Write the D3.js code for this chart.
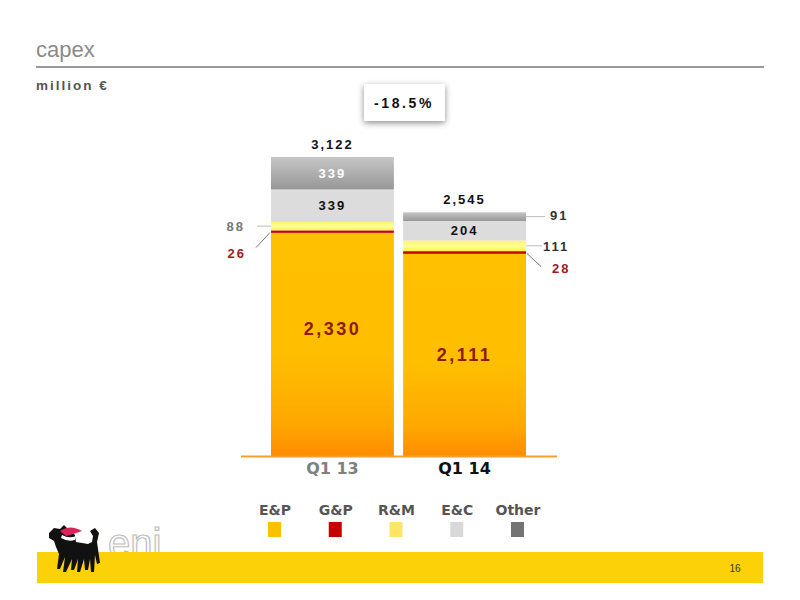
<!DOCTYPE html>
<html><head><meta charset="utf-8">
<script src="https://cdn.jsdelivr.net/npm/d3@7"></script>
<style>
html,body{margin:0;padding:0;background:#fff;}
svg{display:block;}
</style></head>
<body>
<svg id="chart" width="800" height="600"></svg>
<script>
// ---- data ----
const categories = ["Q1 13", "Q1 14"];
const seriesNames = ["E&P", "G&P", "R&M", "E&C", "Other"];
const epValues    = [2330, 2111];
const gpValues    = [26, 28];
const rmValues    = [88, 111];
const ecValues    = [339, 204];
const otherValues = [339, 91];
const totalLabels = ["3,122", "2,545"];
const changeLabel = "-18.5%";
const titleText = "capex";
const unitText = "million €";
const pageNumber = "16";

// ---- styles ----
const colors = {"E&P":"#FFC000","G&P":"#C80000","R&M":"#FFE566","E&C":"#D9D9D9","Other":"#737373"};
const fillFor = {"E&P":"url(#gEP)","G&P":"#C80000","R&M":"url(#gRM)","E&C":"#DCDCDC","Other":"url(#gOther)"};
const numFont = "'Liberation Sans', Arial, sans-serif";
const legFont = "'DejaVu Sans', Verdana, sans-serif";

const svg = d3.select("#chart");
const defs = svg.append("defs");
function lin(id, stops){
  const g = defs.append("linearGradient").attr("id",id).attr("x1",0).attr("y1",0).attr("x2",0).attr("y2",1);
  stops.forEach(s=>g.append("stop").attr("offset",s[0]).attr("stop-color",s[1]));
}
lin("gEP", [[0,"#FFC000"],[0.55,"#FFBE00"],[0.85,"#FFA800"],[1,"#FF8C00"]]);
lin("gRM", [[0,"#FFF36A"],[0.5,"#FFFF99"],[1,"#FFF24A"]]);
lin("gOther", [[0,"#C6C6C6"],[1,"#979797"]]);
const sh = defs.append("filter").attr("id","shadow").attr("x","-30%").attr("y","-30%").attr("width","160%").attr("height","170%");
sh.append("feDropShadow").attr("dx",0).attr("dy",2).attr("stdDeviation",3).attr("flood-color","#000").attr("flood-opacity",0.45);

// ---- header ----
svg.append("text").attr("x",36).attr("y",57).text(titleText)
  .attr("font-family",numFont).attr("font-size",22).attr("fill","#8a8a8a");
svg.append("line").attr("x1",36).attr("x2",764).attr("y1",67).attr("y2",67)
  .attr("stroke","#999").attr("stroke-width",2);
svg.append("text").attr("x",36).attr("y",90).text(unitText)
  .attr("font-family",numFont).attr("font-weight","bold").attr("font-size",13.5)
  .attr("letter-spacing",2).attr("fill","#555");

// ---- scales ----
const table = categories.map((c,i)=>({cat:c, "E&P":epValues[i], "G&P":gpValues[i], "R&M":rmValues[i], "E&C":ecValues[i], "Other":otherValues[i]}));
const stack = d3.stack().keys(seriesNames)(table);
const totals = table.map(d=>seriesNames.reduce((a,k)=>a+d[k],0));
const x = d3.scaleBand().domain(categories).range([271,526]).paddingInner(0.07).paddingOuter(0);
const y = d3.scaleLinear().domain([0, d3.max(totals)]).range([456,157]);

// ---- bars ----
stack.forEach(layer=>{
  svg.append("g").selectAll("rect").data(layer).join("rect")
    .attr("x",d=>x(d.data.cat)).attr("width",x.bandwidth())
    .attr("y",d=>y(d[1])).attr("height",d=>y(d[0])-y(d[1]))
    .attr("fill",fillFor[layer.key]);
});

// baseline
svg.append("line").attr("x1",241).attr("x2",557).attr("y1",y(0)+0.5).attr("y2",y(0)+0.5)
  .attr("stroke","#F4A030").attr("stroke-width",2);

// totals
svg.append("g").selectAll("text").data(categories).join("text")
  .attr("x",(d)=>x(d)+x.bandwidth()/2).attr("y",(d,i)=>y(totals[i])-8)
  .attr("text-anchor","middle").text((d,i)=>totalLabels[i])
  .attr("font-family",numFont).attr("font-weight","bold").attr("font-size",13)
  .attr("letter-spacing",2).attr("fill","#111");

const cx = c => x(c)+x.bandwidth()/2;
const mid = (key,i) => { const s = stack[seriesNames.indexOf(key)][i]; return (y(s[0])+y(s[1]))/2; };
const fmt = d3.format(",");

// E&P inner labels
const epDy = [-16, 0];
categories.forEach((c,i)=>{
  svg.append("text").attr("x",cx(c)).attr("y",mid("E&P",i)+epDy[i]).attr("dy","0.36em")
    .attr("text-anchor","middle").text(fmt(epValues[i]))
    .attr("font-family",numFont).attr("font-weight","bold").attr("font-size",18)
    .attr("letter-spacing",2.5).attr("fill","#8E1B05");
});
// E&C inner labels
categories.forEach((c,i)=>{
  svg.append("text").attr("x",cx(c)).attr("y",mid("E&C",i)).attr("dy","0.36em")
    .attr("text-anchor","middle").text(fmt(ecValues[i]))
    .attr("font-family",numFont).attr("font-weight","bold").attr("font-size",13)
    .attr("letter-spacing",2).attr("fill","#111");
});
// Other inner label (Q1 13)
svg.append("text").attr("x",cx(categories[0])).attr("y",mid("Other",0)).attr("dy","0.36em")
  .attr("text-anchor","middle").text(fmt(otherValues[0]))
  .attr("font-family",numFont).attr("font-weight","bold").attr("font-size",13)
  .attr("letter-spacing",2).attr("fill","#fff");

// outside labels, Q1 13 (left side)
const l0 = x(categories[0]);
const rm0 = mid("R&M",0), gp0 = mid("G&P",0);
svg.append("line").attr("x1",l0-14).attr("x2",l0).attr("y1",rm0).attr("y2",rm0).attr("stroke","#bbb").attr("stroke-width",1);
svg.append("text").attr("x",l0-26).attr("y",rm0).attr("dy","0.36em").attr("text-anchor","end")
  .text(fmt(rmValues[0])).attr("font-family",numFont).attr("font-weight","bold").attr("font-size",13)
  .attr("letter-spacing",2).attr("fill","#777");
svg.append("line").attr("x1",l0-1).attr("y1",gp0+1).attr("x2",l0-15).attr("y2",gp0+16).attr("stroke","#777").attr("stroke-width",1);
svg.append("text").attr("x",l0-25).attr("y",gp0+22).attr("dy","0.36em").attr("text-anchor","end")
  .text(fmt(gpValues[0])).attr("font-family",numFont).attr("font-weight","bold").attr("font-size",13)
  .attr("letter-spacing",2).attr("fill","#9B1C1C");

// outside labels, Q1 14 (right side)
const r1 = x(categories[1])+x.bandwidth();
const ot1 = mid("Other",1), rm1 = mid("R&M",1), gp1 = mid("G&P",1);
svg.append("line").attr("x1",r1).attr("x2",r1+19).attr("y1",ot1).attr("y2",ot1).attr("stroke","#bbb").attr("stroke-width",1);
svg.append("text").attr("x",r1+24).attr("y",ot1-1).attr("dy","0.36em")
  .text(fmt(otherValues[1])).attr("font-family",numFont).attr("font-weight","bold").attr("font-size",13)
  .attr("letter-spacing",2).attr("fill","#333");
svg.append("line").attr("x1",r1).attr("x2",r1+16).attr("y1",rm1).attr("y2",rm1).attr("stroke","#bbb").attr("stroke-width",1);
svg.append("text").attr("x",r1+17).attr("y",rm1).attr("dy","0.36em")
  .text(fmt(rmValues[1])).attr("font-family",numFont).attr("font-weight","bold").attr("font-size",13)
  .attr("letter-spacing",2).attr("fill","#333");
svg.append("line").attr("x1",r1+1).attr("y1",gp1+1).attr("x2",r1+15).attr("y2",gp1+14).attr("stroke","#777").attr("stroke-width",1);
svg.append("text").attr("x",r1+26).attr("y",gp1+16).attr("dy","0.36em")
  .text(fmt(gpValues[1])).attr("font-family",numFont).attr("font-weight","bold").attr("font-size",13)
  .attr("letter-spacing",2).attr("fill","#9B1C1C");

// category labels
svg.append("g").selectAll("text").data(categories).join("text")
  .attr("x",d=>cx(d)).attr("y",y(0)+18).attr("text-anchor","middle").text(d=>d)
  .attr("font-family",legFont).attr("font-weight","bold").attr("font-size",16)
  .attr("fill",(d,i)=>i===0?"#808080":"#111");

// change box
svg.append("rect").attr("x",364).attr("y",84).attr("width",81).attr("height",37)
  .attr("fill","#fff").attr("filter","url(#shadow)");
svg.append("text").attr("x",404).attr("y",108).attr("text-anchor","middle").text(changeLabel)
  .attr("font-family",numFont).attr("font-weight","bold").attr("font-size",14)
  .attr("letter-spacing",2.6).attr("fill","#111");

// legend
const legX = d3.scalePoint().domain(seriesNames).range([275,518]);
const leg = svg.append("g").selectAll("g").data(seriesNames).join("g")
  .attr("transform",d=>`translate(${legX(d)},0)`);
leg.append("text").attr("y",515).attr("text-anchor","middle").text(d=>d)
  .attr("font-family",legFont).attr("font-weight","bold").attr("font-size",14).attr("fill","#555");
leg.append("rect").attr("x",-7).attr("y",522).attr("width",13).attr("height",15)
  .attr("fill",d=>colors[d]);

// footer
svg.append("text").attr("x",108).attr("y",557).text("eni")
  .attr("font-family",numFont).attr("font-size",40).attr("fill","#fff")
  .attr("stroke","#bdbdbd").attr("stroke-width",1.2);
svg.append("rect").attr("x",37).attr("y",552).attr("width",726).attr("height",31).attr("fill","#FDD108");
svg.append("text").attr("x",735).attr("y",572).attr("text-anchor","middle").text(pageNumber)
  .attr("font-family",numFont).attr("font-size",10).attr("fill","#333");

// logo dog (decorative)
svg.append("path").attr("fill","#111").attr("d",
 "M49,533 L54,528 L60,529 L64,525 L69,530 L75,535 L76,542 L88,544 L92,542 L93,536 L90,531 L95,528 L99,533 L97,542 L98,549 L100,563 L97,564 L95,555 L94,572 L91,572 L90,559 L88,570 L85,570 L84,559 L80,572 L77,572 L78,559 L74,570 L71,570 L72,559 L66,572 L63,572 L65,557 L60,569 L57,569 L59,554 L56,547 L54,541 L49,538 Z");
svg.append("path").attr("fill","#fff").attr("d","M62,535 Q69,539 76,536 L75,540 Q68,542 61,538 Z");
svg.append("path").attr("fill","#D9245A").attr("d","M60,531 Q70,524 82,531 Q74,534 66,536 Z");
</script>
</body></html>
